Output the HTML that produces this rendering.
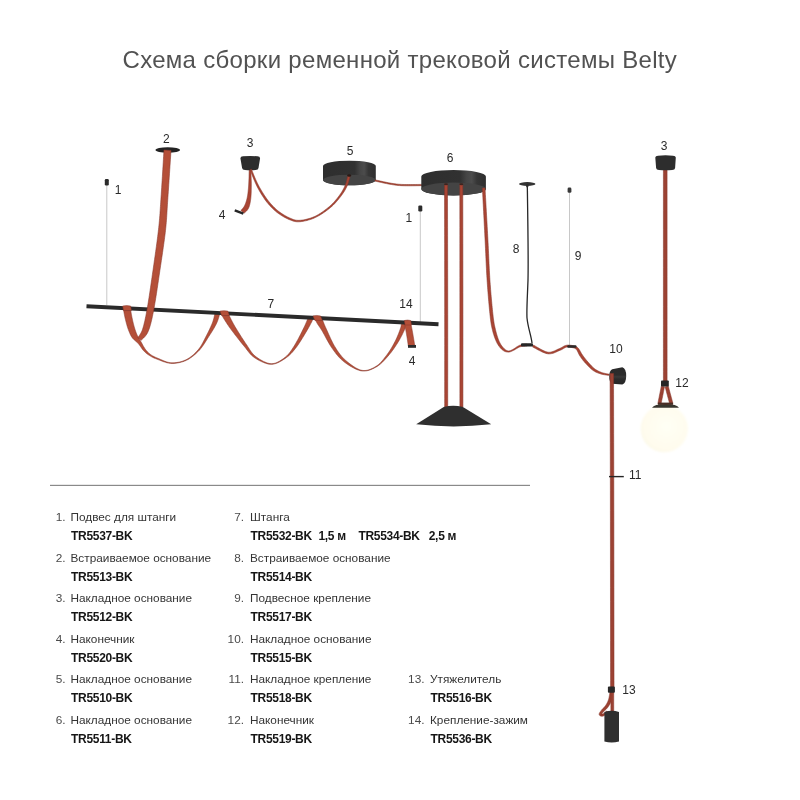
<!DOCTYPE html>
<html><head><meta charset="utf-8"><style>
html,body{margin:0;padding:0;background:#fff;}
body{width:800px;height:800px;overflow:hidden;position:relative;}
svg{position:absolute;left:0;top:0;will-change:transform;}
text{font-family:"Liberation Sans",sans-serif;}
.title{font-size:24px;fill:#525252;letter-spacing:0.3px;}
.lb{font-size:12px;fill:#2a2a2a;}
.num{font-size:11.8px;fill:#4a4a4a;}
.desc{font-size:11.8px;fill:#343434;}
.code{font-size:12px;font-weight:bold;fill:#161616;letter-spacing:-0.3px;}
</style></head><body>
<svg width="800" height="800" viewBox="0 0 800 800">
<line x1="106.8" y1="185" x2="106.8" y2="305" stroke="#c8c8c8" stroke-width="1"/>
<rect x="104.8" y="179" width="4" height="6.5" rx="1.2" fill="#2b2b2b"/>
<line x1="420.3" y1="211" x2="420.3" y2="322" stroke="#c8c8c8" stroke-width="1"/>
<rect x="418.3" y="205.6" width="4" height="5.8" rx="1.2" fill="#2b2b2b"/>
<line x1="569.5" y1="192" x2="569.5" y2="345" stroke="#c8c8c8" stroke-width="1"/>
<rect x="567.6" y="187.5" width="3.8" height="5.3" rx="1.4" fill="#383838"/>
<path d="M123.33,308.93 L123.39,309.26 L123.47,309.65 L123.55,310.11 L123.65,310.63 L123.75,311.20 L123.86,311.81 L123.98,312.46 L124.10,313.13 L124.23,313.83 L124.37,314.54 L124.51,315.26 L124.65,315.98 L124.80,316.69 L124.95,317.40 L125.10,318.08 L125.26,318.74 L125.41,319.37 L125.56,320.01 L125.72,320.65 L125.88,321.30 L126.05,321.95 L126.22,322.61 L126.39,323.27 L126.57,323.93 L126.75,324.59 L126.93,325.24 L127.12,325.89 L127.32,326.53 L127.51,327.16 L127.72,327.79 L127.92,328.40 L128.13,329.00 L128.34,329.57 L128.55,330.13 L128.75,330.68 L128.96,331.23 L129.17,331.77 L129.38,332.31 L129.61,332.84 L129.83,333.37 L130.07,333.89 L130.32,334.41 L130.57,334.92 L130.84,335.43 L131.12,335.93 L131.41,336.43 L131.72,336.92 L132.05,337.41 L132.41,337.90 L132.79,338.38 L133.18,338.82 L133.57,339.24 L133.98,339.64 L134.38,340.01 L134.78,340.37 L135.19,340.72 L135.59,341.06 L135.98,341.39 L136.37,341.72 L136.75,342.05 L137.12,342.38 L137.49,342.72 L137.84,343.08 L138.18,343.45 L138.51,343.84 L138.85,344.25 L139.18,344.69 L139.51,345.14 L139.85,345.60 L140.18,346.08 L140.51,346.56 L140.84,347.04 L141.18,347.53 L141.52,348.02 L141.86,348.50 L142.20,348.97 L142.55,349.43 L142.91,349.88 L143.27,350.31 L143.63,350.72 L144.00,351.10 L144.35,351.46 L144.70,351.81 L145.06,352.15 L145.41,352.48 L145.77,352.80 L146.12,353.10 L146.49,353.40 L146.85,353.69 L147.22,353.98 L147.60,354.26 L147.98,354.53 L148.37,354.80 L148.77,355.07 L149.18,355.34 L149.59,355.60 L150.01,355.86 L150.43,356.11 L150.83,356.35 L151.24,356.59 L151.66,356.82 L152.08,357.05 L152.50,357.27 L152.95,357.49 L153.40,357.71 L153.88,357.92 L154.37,358.14 L154.90,358.36 L155.45,358.59 L156.03,358.81 L156.64,359.05 L157.29,359.29 L157.98,359.54 L158.70,359.82 L159.47,360.12 L160.27,360.44 L161.10,360.77 L161.96,361.11 L162.85,361.44 L163.75,361.77 L164.67,362.08 L165.60,362.37 L166.54,362.64 L167.49,362.88 L168.43,363.09 L169.37,363.25 L170.31,363.36 L171.23,363.42 L172.15,363.44 L173.09,363.43 L174.04,363.38 L175.00,363.31 L175.96,363.21 L176.94,363.08 L177.91,362.92 L178.89,362.73 L179.86,362.52 L180.83,362.28 L181.79,362.01 L182.74,361.72 L183.68,361.40 L184.60,361.06 L185.51,360.69 L186.39,360.29 L187.26,359.87 L188.13,359.40 L188.99,358.90 L189.84,358.37 L190.68,357.81 L191.51,357.23 L192.34,356.62 L193.15,355.98 L193.95,355.33 L194.74,354.66 L195.52,353.97 L196.28,353.27 L197.03,352.56 L197.76,351.84 L198.48,351.11 L199.18,350.38 L199.87,349.63 L200.54,348.85 L201.19,348.04 L201.82,347.22 L202.44,346.37 L203.04,345.52 L203.63,344.65 L204.21,343.77 L204.78,342.89 L205.34,342.01 L205.89,341.13 L206.43,340.25 L206.97,339.38 L207.50,338.53 L208.03,337.69 L208.56,336.86 L209.09,336.04 L209.63,335.21 L210.17,334.37 L210.71,333.53 L211.24,332.68 L211.77,331.84 L212.29,331.00 L212.81,330.17 L213.31,329.33 L213.80,328.51 L214.27,327.70 L214.73,326.89 L215.17,326.10 L215.59,325.32 L215.99,324.55 L216.36,323.79 L216.72,323.03 L217.05,322.25 L217.37,321.48 L217.66,320.70 L217.93,319.94 L218.18,319.19 L218.42,318.46 L218.64,317.76 L218.84,317.08 L219.02,316.44 L219.19,315.84 L219.35,315.28 L219.49,314.78 L219.62,314.34 L219.73,313.98 L219.83,313.66 L215.17,312.34 L215.08,312.71 L214.97,313.15 L214.87,313.64 L214.76,314.16 L214.64,314.72 L214.52,315.31 L214.38,315.94 L214.24,316.59 L214.08,317.26 L213.92,317.95 L213.74,318.66 L213.54,319.37 L213.34,320.09 L213.12,320.80 L212.89,321.50 L212.64,322.21 L212.36,322.93 L212.07,323.68 L211.75,324.45 L211.41,325.25 L211.06,326.07 L210.69,326.91 L210.31,327.76 L209.91,328.62 L209.51,329.49 L209.09,330.36 L208.66,331.24 L208.23,332.13 L207.79,333.01 L207.34,333.89 L206.89,334.76 L206.44,335.64 L205.98,336.52 L205.53,337.41 L205.07,338.32 L204.61,339.23 L204.15,340.15 L203.68,341.06 L203.21,341.98 L202.73,342.89 L202.23,343.79 L201.72,344.68 L201.20,345.55 L200.66,346.41 L200.11,347.25 L199.53,348.07 L198.94,348.86 L198.32,349.62 L197.67,350.37 L197.01,351.12 L196.32,351.85 L195.61,352.58 L194.89,353.30 L194.15,354.00 L193.40,354.68 L192.63,355.35 L191.85,355.99 L191.06,356.61 L190.25,357.21 L189.44,357.77 L188.62,358.31 L187.79,358.81 L186.95,359.28 L186.11,359.71 L185.25,360.11 L184.37,360.48 L183.47,360.83 L182.55,361.15 L181.62,361.44 L180.68,361.71 L179.73,361.95 L178.77,362.16 L177.81,362.34 L176.85,362.49 L175.89,362.62 L174.94,362.71 L174.00,362.77 L173.07,362.80 L172.16,362.81 L171.27,362.78 L170.38,362.70 L169.48,362.57 L168.58,362.39 L167.67,362.16 L166.76,361.90 L165.85,361.60 L164.95,361.28 L164.06,360.94 L163.18,360.59 L162.32,360.22 L161.48,359.86 L160.67,359.50 L159.88,359.15 L159.12,358.81 L158.39,358.50 L157.71,358.21 L157.07,357.96 L156.47,357.71 L155.91,357.47 L155.38,357.24 L154.88,357.01 L154.41,356.79 L153.95,356.56 L153.52,356.34 L153.11,356.12 L152.71,355.90 L152.32,355.67 L151.93,355.43 L151.55,355.19 L151.17,354.94 L150.79,354.67 L150.41,354.40 L150.03,354.12 L149.66,353.83 L149.31,353.55 L148.97,353.26 L148.64,352.97 L148.32,352.67 L148.01,352.37 L147.70,352.07 L147.40,351.75 L147.11,351.43 L146.82,351.10 L146.53,350.76 L146.24,350.41 L145.95,350.04 L145.66,349.67 L145.37,349.28 L145.08,348.89 L144.80,348.47 L144.51,348.04 L144.23,347.59 L143.94,347.12 L143.66,346.64 L143.38,346.15 L143.09,345.64 L142.81,345.13 L142.53,344.62 L142.25,344.11 L141.96,343.59 L141.68,343.07 L141.40,342.56 L141.11,342.06 L140.82,341.55 L140.53,341.06 L140.24,340.58 L139.95,340.10 L139.67,339.63 L139.39,339.17 L139.12,338.72 L138.86,338.28 L138.60,337.84 L138.36,337.42 L138.12,337.00 L137.90,336.58 L137.69,336.17 L137.49,335.77 L137.30,335.38 L137.12,334.99 L136.95,334.59 L136.77,334.17 L136.59,333.74 L136.41,333.31 L136.24,332.88 L136.07,332.43 L135.90,331.99 L135.73,331.53 L135.57,331.07 L135.40,330.60 L135.24,330.12 L135.08,329.63 L134.91,329.13 L134.75,328.61 L134.59,328.09 L134.43,327.55 L134.27,327.00 L134.11,326.46 L133.96,325.90 L133.80,325.32 L133.65,324.74 L133.50,324.14 L133.35,323.53 L133.20,322.91 L133.05,322.28 L132.90,321.65 L132.76,321.02 L132.61,320.39 L132.47,319.75 L132.34,319.12 L132.20,318.49 L132.07,317.87 L131.94,317.26 L131.82,316.65 L131.70,316.02 L131.57,315.35 L131.45,314.67 L131.33,313.98 L131.20,313.29 L131.09,312.60 L130.97,311.92 L130.86,311.25 L130.76,310.62 L130.66,310.01 L130.56,309.44 L130.48,308.91 L130.40,308.44 L130.33,308.02 L130.27,307.67Z" fill="#b44f38" stroke="#86352a" stroke-width="0.55" stroke-linejoin="round" />
<path d="M221.64,314.80 L221.72,314.93 L221.81,315.08 L221.90,315.26 L222.01,315.45 L222.13,315.67 L222.26,315.92 L222.40,316.18 L222.56,316.47 L222.73,316.78 L222.92,317.11 L223.12,317.46 L223.34,317.82 L223.57,318.22 L223.82,318.63 L224.09,319.06 L224.38,319.51 L224.66,319.95 L224.96,320.41 L225.26,320.89 L225.58,321.39 L225.91,321.92 L226.26,322.46 L226.62,323.03 L227.01,323.63 L227.41,324.24 L227.84,324.89 L228.30,325.56 L228.78,326.26 L229.28,326.99 L229.82,327.74 L230.38,328.53 L230.98,329.34 L231.62,330.20 L232.31,331.12 L233.04,332.10 L233.82,333.12 L234.62,334.17 L235.45,335.26 L236.31,336.36 L237.18,337.48 L238.05,338.60 L238.93,339.72 L239.80,340.83 L240.66,341.91 L241.50,342.96 L242.32,343.98 L243.11,344.95 L243.86,345.85 L244.56,346.71 L245.22,347.55 L245.86,348.37 L246.48,349.18 L247.08,349.98 L247.68,350.76 L248.28,351.53 L248.88,352.28 L249.48,353.02 L250.11,353.74 L250.76,354.45 L251.43,355.13 L252.14,355.80 L252.89,356.44 L253.68,357.07 L254.51,357.66 L255.39,358.25 L256.31,358.83 L257.27,359.41 L258.28,359.99 L259.31,360.55 L260.36,361.09 L261.44,361.61 L262.53,362.10 L263.62,362.56 L264.71,362.98 L265.81,363.35 L266.89,363.67 L267.95,363.93 L268.99,364.13 L270.01,364.26 L270.99,364.32 L271.95,364.31 L272.91,364.21 L273.87,364.05 L274.81,363.82 L275.75,363.54 L276.68,363.21 L277.61,362.83 L278.52,362.41 L279.42,361.96 L280.30,361.49 L281.18,360.99 L282.03,360.48 L282.87,359.95 L283.69,359.43 L284.49,358.90 L285.28,358.39 L286.04,357.87 L286.78,357.33 L287.49,356.78 L288.19,356.22 L288.87,355.64 L289.53,355.04 L290.18,354.42 L290.83,353.78 L291.46,353.12 L292.10,352.43 L292.73,351.72 L293.37,350.98 L294.01,350.21 L294.66,349.40 L295.33,348.57 L296.00,347.70 L296.71,346.77 L297.44,345.76 L298.18,344.69 L298.93,343.57 L299.69,342.42 L300.45,341.23 L301.21,340.03 L301.97,338.81 L302.72,337.60 L303.45,336.39 L304.16,335.21 L304.85,334.06 L305.51,332.95 L306.14,331.89 L306.73,330.89 L307.28,329.96 L307.81,329.07 L308.32,328.18 L308.80,327.31 L309.27,326.47 L309.72,325.65 L310.14,324.85 L310.54,324.08 L310.92,323.35 L311.27,322.65 L311.60,322.00 L311.91,321.38 L312.20,320.81 L312.46,320.30 L312.69,319.83 L312.90,319.43 L313.08,319.08 L308.52,316.92 L308.35,317.31 L308.16,317.77 L307.96,318.27 L307.74,318.81 L307.51,319.40 L307.25,320.03 L306.98,320.69 L306.70,321.40 L306.39,322.14 L306.06,322.91 L305.72,323.71 L305.36,324.53 L304.98,325.38 L304.58,326.25 L304.16,327.13 L303.72,328.04 L303.24,329.00 L302.73,330.04 L302.18,331.14 L301.61,332.29 L301.01,333.48 L300.40,334.70 L299.76,335.94 L299.12,337.19 L298.46,338.44 L297.81,339.68 L297.15,340.90 L296.49,342.08 L295.85,343.23 L295.21,344.32 L294.60,345.34 L294.00,346.30 L293.41,347.21 L292.84,348.08 L292.29,348.93 L291.75,349.74 L291.21,350.53 L290.68,351.28 L290.15,352.01 L289.61,352.72 L289.07,353.40 L288.51,354.05 L287.94,354.69 L287.35,355.31 L286.74,355.91 L286.10,356.49 L285.43,357.06 L284.72,357.61 L283.98,358.17 L283.22,358.73 L282.43,359.29 L281.62,359.84 L280.80,360.37 L279.96,360.89 L279.10,361.38 L278.23,361.84 L277.35,362.26 L276.46,362.64 L275.56,362.96 L274.66,363.24 L273.75,363.45 L272.83,363.60 L271.92,363.68 L271.01,363.68 L270.08,363.59 L269.12,363.43 L268.13,363.20 L267.11,362.90 L266.09,362.53 L265.05,362.12 L264.01,361.65 L262.97,361.15 L261.95,360.60 L260.93,360.03 L259.94,359.44 L258.97,358.83 L258.04,358.20 L257.14,357.58 L256.29,356.95 L255.49,356.34 L254.75,355.73 L254.07,355.10 L253.43,354.46 L252.82,353.81 L252.24,353.13 L251.69,352.43 L251.15,351.71 L250.62,350.97 L250.10,350.20 L249.58,349.41 L249.06,348.60 L248.52,347.76 L247.96,346.89 L247.39,346.00 L246.78,345.08 L246.14,344.15 L245.48,343.18 L244.79,342.16 L244.07,341.08 L243.34,339.97 L242.59,338.82 L241.84,337.65 L241.08,336.46 L240.32,335.27 L239.58,334.08 L238.84,332.91 L238.13,331.75 L237.43,330.63 L236.77,329.55 L236.14,328.53 L235.56,327.56 L235.02,326.66 L234.52,325.82 L234.06,325.02 L233.63,324.25 L233.22,323.51 L232.83,322.80 L232.47,322.12 L232.13,321.47 L231.81,320.84 L231.50,320.23 L231.20,319.65 L230.92,319.08 L230.65,318.53 L230.39,318.00 L230.13,317.48 L229.87,316.98 L229.62,316.49 L229.39,316.04 L229.18,315.63 L228.98,315.23 L228.80,314.86 L228.63,314.51 L228.47,314.18 L228.32,313.87 L228.19,313.58 L228.06,313.31 L227.94,313.05 L227.83,312.81 L227.73,312.59 L227.63,312.37 L227.53,312.17 L227.44,311.98 L227.36,311.80Z" fill="#b44f38" stroke="#86352a" stroke-width="0.55" stroke-linejoin="round" />
<path d="M315.12,319.56 L315.21,319.72 L315.32,319.92 L315.44,320.14 L315.57,320.38 L315.71,320.65 L315.86,320.94 L316.03,321.25 L316.20,321.57 L316.39,321.91 L316.58,322.26 L316.77,322.61 L316.97,322.97 L317.18,323.33 L317.39,323.69 L317.61,324.05 L317.82,324.41 L318.03,324.74 L318.24,325.05 L318.43,325.34 L318.63,325.62 L318.82,325.89 L319.02,326.16 L319.22,326.44 L319.43,326.73 L319.66,327.05 L319.91,327.40 L320.17,327.79 L320.47,328.22 L320.78,328.71 L321.14,329.27 L321.52,329.89 L321.94,330.58 L322.40,331.36 L322.89,332.23 L323.43,333.20 L324.00,334.24 L324.59,335.35 L325.22,336.51 L325.87,337.70 L326.53,338.93 L327.22,340.17 L327.91,341.42 L328.62,342.66 L329.33,343.89 L330.05,345.08 L330.76,346.23 L331.48,347.33 L332.18,348.36 L332.87,349.33 L333.54,350.27 L334.21,351.20 L334.88,352.11 L335.56,353.01 L336.24,353.89 L336.93,354.75 L337.63,355.60 L338.35,356.44 L339.09,357.26 L339.85,358.06 L340.63,358.85 L341.44,359.62 L342.29,360.37 L343.16,361.11 L344.06,361.83 L345.01,362.54 L346.00,363.26 L347.03,363.99 L348.10,364.71 L349.20,365.43 L350.32,366.13 L351.46,366.81 L352.62,367.47 L353.77,368.09 L354.93,368.66 L356.08,369.20 L357.22,369.67 L358.34,370.09 L359.44,370.44 L360.51,370.72 L361.54,370.92 L362.55,371.04 L363.55,371.09 L364.54,371.07 L365.52,370.98 L366.50,370.85 L367.46,370.65 L368.41,370.42 L369.35,370.13 L370.28,369.81 L371.20,369.46 L372.10,369.08 L373.00,368.67 L373.87,368.24 L374.74,367.80 L375.58,367.34 L376.42,366.88 L377.24,366.39 L378.05,365.85 L378.84,365.28 L379.62,364.67 L380.39,364.03 L381.14,363.37 L381.89,362.67 L382.62,361.96 L383.34,361.23 L384.05,360.48 L384.75,359.73 L385.44,358.97 L386.13,358.20 L386.81,357.44 L387.48,356.68 L388.14,355.92 L388.81,355.15 L389.47,354.37 L390.12,353.56 L390.77,352.75 L391.41,351.92 L392.04,351.08 L392.67,350.23 L393.28,349.38 L393.89,348.53 L394.48,347.67 L395.06,346.82 L395.63,345.97 L396.19,345.12 L396.74,344.28 L397.27,343.45 L397.78,342.63 L398.29,341.79 L398.80,340.95 L399.30,340.09 L399.79,339.22 L400.26,338.35 L400.73,337.48 L401.18,336.62 L401.62,335.76 L402.05,334.92 L402.45,334.10 L402.84,333.30 L403.21,332.53 L403.56,331.78 L403.89,331.07 L404.20,330.40 L404.49,329.76 L404.75,329.13 L405.00,328.51 L405.21,327.92 L405.40,327.35 L405.57,326.81 L405.72,326.29 L405.84,325.81 L405.96,325.35 L406.05,324.92 L406.14,324.53 L406.21,324.17 L406.27,323.85 L406.33,323.57 L406.38,323.34 L406.42,323.17 L406.47,323.01 L401.53,321.99 L401.49,322.26 L401.45,322.57 L401.42,322.88 L401.40,323.19 L401.38,323.51 L401.35,323.83 L401.33,324.18 L401.29,324.54 L401.25,324.92 L401.20,325.32 L401.13,325.75 L401.05,326.19 L400.95,326.66 L400.83,327.16 L400.69,327.68 L400.51,328.24 L400.31,328.86 L400.08,329.53 L399.83,330.25 L399.56,331.00 L399.27,331.78 L398.97,332.58 L398.65,333.41 L398.32,334.26 L397.97,335.12 L397.61,335.99 L397.23,336.87 L396.85,337.75 L396.45,338.62 L396.05,339.48 L395.64,340.34 L395.22,341.17 L394.78,342.01 L394.33,342.87 L393.87,343.74 L393.39,344.61 L392.91,345.49 L392.41,346.37 L391.90,347.25 L391.37,348.13 L390.84,349.01 L390.30,349.88 L389.75,350.75 L389.19,351.60 L388.62,352.44 L388.04,353.27 L387.45,354.08 L386.86,354.88 L386.25,355.68 L385.64,356.48 L385.03,357.29 L384.41,358.09 L383.78,358.89 L383.14,359.69 L382.50,360.46 L381.84,361.23 L381.17,361.97 L380.49,362.69 L379.80,363.38 L379.09,364.05 L378.36,364.68 L377.62,365.27 L376.86,365.82 L376.08,366.32 L375.28,366.80 L374.46,367.28 L373.61,367.74 L372.76,368.18 L371.89,368.60 L371.00,368.99 L370.11,369.35 L369.20,369.67 L368.28,369.94 L367.35,370.17 L366.41,370.35 L365.47,370.47 L364.52,370.52 L363.57,370.51 L362.61,370.43 L361.66,370.28 L360.68,370.04 L359.68,369.71 L358.65,369.30 L357.60,368.82 L356.53,368.27 L355.46,367.67 L354.38,367.02 L353.31,366.32 L352.24,365.59 L351.19,364.84 L350.15,364.06 L349.14,363.27 L348.16,362.48 L347.21,361.70 L346.30,360.92 L345.44,360.17 L344.62,359.43 L343.84,358.69 L343.09,357.93 L342.37,357.16 L341.68,356.38 L341.00,355.58 L340.34,354.77 L339.70,353.95 L339.07,353.10 L338.45,352.24 L337.84,351.36 L337.23,350.46 L336.63,349.53 L336.03,348.59 L335.42,347.62 L334.82,346.64 L334.22,345.63 L333.61,344.54 L333.00,343.40 L332.39,342.21 L331.78,340.98 L331.18,339.73 L330.58,338.46 L330.00,337.19 L329.43,335.94 L328.87,334.71 L328.34,333.51 L327.83,332.35 L327.34,331.26 L326.88,330.23 L326.45,329.28 L326.06,328.42 L325.71,327.66 L325.40,326.99 L325.13,326.38 L324.89,325.84 L324.68,325.35 L324.50,324.90 L324.34,324.50 L324.19,324.13 L324.06,323.79 L323.93,323.47 L323.82,323.17 L323.70,322.87 L323.58,322.57 L323.46,322.26 L323.33,321.94 L323.18,321.59 L323.02,321.23 L322.85,320.86 L322.69,320.49 L322.52,320.13 L322.35,319.76 L322.18,319.40 L322.02,319.05 L321.86,318.71 L321.70,318.39 L321.56,318.07 L321.42,317.78 L321.28,317.50 L321.16,317.25 L321.05,317.02 L320.96,316.81 L320.88,316.64Z" fill="#b44f38" stroke="#86352a" stroke-width="0.55" stroke-linejoin="round" />
<path d="M404.43,323.30 L404.50,323.66 L404.59,324.09 L404.69,324.58 L404.80,325.12 L404.92,325.70 L405.04,326.33 L405.18,326.99 L405.32,327.68 L405.46,328.39 L405.60,329.12 L405.75,329.86 L405.89,330.61 L406.03,331.36 L406.17,332.10 L406.30,332.83 L406.42,333.54 L406.54,334.27 L406.67,335.06 L406.81,335.90 L406.94,336.77 L407.08,337.66 L407.22,338.57 L407.35,339.48 L407.49,340.39 L407.62,341.27 L407.74,342.12 L407.86,342.93 L407.97,343.69 L408.08,344.39 L408.17,345.02 L408.25,345.56 L408.31,346.00 L414.69,345.00 L414.61,344.56 L414.52,344.02 L414.42,343.40 L414.31,342.71 L414.18,341.95 L414.05,341.14 L413.91,340.29 L413.76,339.40 L413.61,338.50 L413.46,337.58 L413.30,336.66 L413.15,335.76 L413.00,334.88 L412.85,334.03 L412.71,333.22 L412.58,332.46 L412.44,331.72 L412.30,330.97 L412.16,330.21 L412.02,329.44 L411.87,328.68 L411.72,327.93 L411.58,327.18 L411.43,326.46 L411.30,325.76 L411.16,325.10 L411.04,324.47 L410.92,323.88 L410.81,323.35 L410.72,322.87 L410.64,322.45 L410.57,322.10Z" fill="#b44f38" stroke="#86352a" stroke-width="0.55" stroke-linejoin="round" />
<line x1="86.5" y1="306.2" x2="438.5" y2="324.3" stroke="#2a2a2a" stroke-width="3.9" stroke-linecap="butt"/>
<path d="M122.7,306.0 Q126.65,305.1 130.6,306.0 L131.4,310.6 L123.5,310.6 Z" fill="#b44f38" stroke="#86352a" stroke-width="0.5"/>
<path d="M220.0,311.09999999999997 Q223.9,310.2 227.8,311.09999999999997 L229.4,315.6 L221.6,315.6 Z" fill="#b44f38" stroke="#86352a" stroke-width="0.5"/>
<path d="M313.0,315.9 Q316.75,315.0 320.5,315.9 L322.4,320.4 L314.9,320.4 Z" fill="#b44f38" stroke="#86352a" stroke-width="0.5"/>
<path d="M404.3,320.5 Q407.5,319.6 410.7,320.5 L411.5,325.0 L405.1,325.0 Z" fill="#b44f38" stroke="#86352a" stroke-width="0.5"/>
<rect x="408" y="345" width="8" height="2.8" fill="#2b2b2b"/>
<ellipse cx="167.75" cy="150" rx="12.3" ry="2.8" fill="#232323"/>
<path d="M163.98,149.98 L163.87,151.76 L163.74,153.96 L163.58,156.52 L163.41,159.39 L163.22,162.53 L163.02,165.88 L162.80,169.39 L162.58,173.01 L162.36,176.68 L162.13,180.37 L161.90,184.01 L161.68,187.55 L161.46,190.95 L161.26,194.16 L161.06,197.11 L160.88,199.77 L160.72,202.17 L160.57,204.41 L160.43,206.49 L160.30,208.44 L160.18,210.29 L160.06,212.04 L159.95,213.73 L159.83,215.38 L159.70,217.00 L159.57,218.62 L159.43,220.26 L159.28,221.95 L159.12,223.71 L158.93,225.55 L158.73,227.51 L158.50,229.61 L158.24,231.82 L157.97,234.10 L157.68,236.45 L157.38,238.87 L157.06,241.33 L156.72,243.84 L156.38,246.38 L156.03,248.95 L155.67,251.54 L155.30,254.14 L154.94,256.74 L154.57,259.34 L154.20,261.92 L153.83,264.48 L153.47,267.01 L153.11,269.51 L152.75,272.01 L152.39,274.56 L152.02,277.14 L151.64,279.75 L151.26,282.37 L150.88,284.99 L150.50,287.60 L150.12,290.18 L149.74,292.73 L149.36,295.22 L148.99,297.65 L148.62,300.00 L148.26,302.27 L147.91,304.43 L147.56,306.48 L147.23,308.40 L146.91,310.22 L146.59,311.95 L146.29,313.59 L145.99,315.15 L145.70,316.63 L145.41,318.03 L145.13,319.37 L144.86,320.64 L144.58,321.84 L144.31,322.99 L144.04,324.09 L143.77,325.14 L143.50,326.15 L143.22,327.11 L142.94,328.05 L142.67,328.94 L142.39,329.75 L142.11,330.49 L141.82,331.20 L141.51,331.87 L141.19,332.51 L140.87,333.12 L140.54,333.69 L140.21,334.24 L139.87,334.76 L139.55,335.25 L139.22,335.72 L138.91,336.16 L138.61,336.59 L138.32,337.01 L138.04,337.42 L137.82,337.78 L141.18,340.22 L141.39,339.99 L141.62,339.77 L141.93,339.49 L142.29,339.16 L142.71,338.79 L143.16,338.37 L143.65,337.91 L144.17,337.39 L144.70,336.81 L145.25,336.18 L145.80,335.49 L146.35,334.74 L146.88,333.92 L147.40,333.03 L147.89,332.07 L148.33,331.06 L148.73,330.05 L149.11,329.03 L149.47,327.98 L149.82,326.89 L150.16,325.77 L150.50,324.60 L150.82,323.38 L151.14,322.11 L151.46,320.79 L151.78,319.41 L152.10,317.96 L152.42,316.44 L152.74,314.85 L153.08,313.19 L153.42,311.44 L153.77,309.60 L154.13,307.64 L154.51,305.55 L154.88,303.36 L155.26,301.07 L155.65,298.70 L156.04,296.25 L156.43,293.75 L156.82,291.19 L157.21,288.60 L157.60,285.99 L157.99,283.36 L158.38,280.73 L158.77,278.12 L159.15,275.54 L159.52,272.99 L159.89,270.49 L160.26,268.01 L160.64,265.48 L161.02,262.92 L161.40,260.33 L161.79,257.74 L162.18,255.13 L162.56,252.52 L162.93,249.92 L163.30,247.34 L163.66,244.79 L164.01,242.26 L164.35,239.78 L164.66,237.34 L164.97,234.96 L165.25,232.64 L165.50,230.39 L165.73,228.26 L165.94,226.26 L166.12,224.37 L166.27,222.57 L166.41,220.84 L166.54,219.16 L166.65,217.50 L166.76,215.85 L166.86,214.18 L166.96,212.48 L167.06,210.72 L167.17,208.87 L167.29,206.92 L167.41,204.85 L167.56,202.63 L167.72,200.23 L167.90,197.57 L168.10,194.61 L168.32,191.40 L168.54,188.00 L168.78,184.45 L169.02,180.81 L169.26,177.12 L169.51,173.44 L169.74,169.83 L169.97,166.32 L170.19,162.97 L170.40,159.83 L170.59,156.96 L170.76,154.40 L170.90,152.20 L171.02,150.42Z" fill="#b44f38" stroke="#86352a" stroke-width="0.55" stroke-linejoin="round" />
<defs><linearGradient id="pk" x1="0" y1="0" x2="1" y2="0"><stop offset="0" stop-color="#2e2e2e"/><stop offset="0.6" stop-color="#313131"/><stop offset="0.7" stop-color="#454545"/><stop offset="0.78" stop-color="#4c4c4c"/><stop offset="0.86" stop-color="#363636"/><stop offset="1" stop-color="#2e2e2e"/></linearGradient></defs>
<path d="M249.18,169.50 L249.16,170.05 L249.14,170.72 L249.13,171.49 L249.11,172.35 L249.09,173.29 L249.07,174.30 L249.04,175.35 L249.02,176.44 L248.99,177.56 L248.96,178.69 L248.92,179.82 L248.88,180.93 L248.84,182.01 L248.79,183.05 L248.74,184.04 L248.68,184.96 L248.61,185.84 L248.55,186.72 L248.48,187.59 L248.41,188.45 L248.33,189.30 L248.25,190.15 L248.17,190.98 L248.09,191.79 L247.99,192.60 L247.90,193.39 L247.80,194.16 L247.69,194.91 L247.58,195.64 L247.46,196.36 L247.33,197.05 L247.20,197.72 L247.06,198.37 L246.91,199.00 L246.75,199.62 L246.59,200.22 L246.42,200.81 L246.25,201.37 L246.08,201.92 L245.90,202.45 L245.71,202.96 L245.53,203.45 L245.34,203.92 L245.15,204.38 L244.96,204.81 L244.77,205.23 L244.58,205.63 L244.41,205.99 L244.24,206.31 L244.06,206.61 L243.87,206.91 L243.66,207.21 L243.44,207.52 L243.20,207.82 L242.96,208.11 L242.72,208.40 L242.47,208.68 L242.22,208.95 L241.98,209.21 L241.75,209.46 L241.52,209.71 L241.30,209.94 L241.08,210.18 L240.91,210.39 L244.09,213.21 L244.20,213.10 L244.34,212.97 L244.53,212.81 L244.76,212.61 L245.03,212.38 L245.32,212.12 L245.64,211.84 L245.97,211.52 L246.32,211.19 L246.67,210.82 L247.02,210.43 L247.36,210.00 L247.70,209.55 L248.03,209.06 L248.33,208.54 L248.59,208.01 L248.82,207.49 L249.02,206.98 L249.21,206.45 L249.38,205.90 L249.55,205.34 L249.70,204.77 L249.84,204.18 L249.98,203.58 L250.11,202.96 L250.22,202.33 L250.33,201.69 L250.44,201.04 L250.54,200.37 L250.63,199.69 L250.72,198.99 L250.80,198.28 L250.88,197.56 L250.95,196.81 L251.01,196.05 L251.07,195.27 L251.12,194.48 L251.16,193.67 L251.20,192.85 L251.23,192.02 L251.25,191.18 L251.27,190.32 L251.29,189.46 L251.30,188.59 L251.31,187.71 L251.32,186.83 L251.32,185.94 L251.32,185.04 L251.32,184.10 L251.31,183.10 L251.29,182.04 L251.26,180.94 L251.23,179.82 L251.19,178.69 L251.15,177.55 L251.11,176.43 L251.06,175.33 L251.02,174.28 L250.98,173.27 L250.94,172.33 L250.90,171.47 L250.87,170.71 L250.84,170.04 L250.82,169.50Z" fill="#a94534" stroke="#86352a" stroke-width="0.55" stroke-linejoin="round" />
<path d="M235.2,209.2 L243.8,212.6 L242.9,214.8 L234.3,211.4Z" fill="#262626"/>
<path d="M240.4,158.2 Q240.5,156.5 243,156.3 Q250.2,155.5 257.5,156.3 Q260,156.5 260.1,158.2 L258.5,168 Q258.3,169.9 255.6,170 Q250.2,170.4 245,170 Q242.3,169.9 242.1,168 Z" fill="#2d2d2d"/>
<path d="M323.0,166 A26.4,5.3 0 0 1 375.79999999999995,166 L375.79999999999995,180 A26.4,5.3 0 0 1 323.0,180 Z" fill="url(#pk)"/>
<ellipse cx="349.4" cy="180" rx="26.4" ry="5.3" fill="#444444"/>
<path d="M250.13,169.77 L250.27,170.13 L250.44,170.58 L250.63,171.09 L250.84,171.66 L251.08,172.29 L251.33,172.96 L251.59,173.67 L251.87,174.40 L252.16,175.16 L252.45,175.93 L252.75,176.70 L253.06,177.47 L253.36,178.22 L253.66,178.96 L253.96,179.66 L254.25,180.34 L254.53,180.98 L254.80,181.60 L255.08,182.23 L255.35,182.84 L255.62,183.46 L255.90,184.07 L256.18,184.68 L256.47,185.29 L256.77,185.91 L257.08,186.53 L257.39,187.16 L257.72,187.80 L258.07,188.45 L258.43,189.11 L258.81,189.78 L259.20,190.47 L259.61,191.17 L260.04,191.90 L260.48,192.64 L260.94,193.40 L261.41,194.17 L261.89,194.95 L262.38,195.73 L262.88,196.52 L263.40,197.31 L263.92,198.10 L264.46,198.88 L265.00,199.66 L265.55,200.42 L266.11,201.17 L266.67,201.90 L267.24,202.62 L267.82,203.31 L268.40,204.00 L268.99,204.68 L269.59,205.36 L270.20,206.03 L270.81,206.69 L271.43,207.34 L272.07,207.99 L272.71,208.62 L273.36,209.25 L274.02,209.86 L274.68,210.46 L275.36,211.05 L276.04,211.62 L276.73,212.19 L277.43,212.73 L278.15,213.27 L278.89,213.80 L279.64,214.32 L280.41,214.83 L281.18,215.33 L281.97,215.82 L282.76,216.30 L283.56,216.76 L284.35,217.21 L285.15,217.63 L285.93,218.04 L286.71,218.43 L287.48,218.80 L288.23,219.15 L288.97,219.47 L289.68,219.76 L290.36,220.03 L291.01,220.29 L291.64,220.52 L292.25,220.74 L292.85,220.95 L293.45,221.13 L294.04,221.30 L294.64,221.44 L295.24,221.56 L295.86,221.66 L296.49,221.74 L297.15,221.79 L297.83,221.81 L298.53,221.81 L299.28,221.78 L300.06,221.72 L300.88,221.64 L301.73,221.53 L302.61,221.40 L303.52,221.25 L304.45,221.07 L305.40,220.87 L306.37,220.64 L307.35,220.39 L308.34,220.12 L309.34,219.82 L310.34,219.50 L311.34,219.16 L312.34,218.80 L313.33,218.41 L314.30,218.00 L315.26,217.57 L316.23,217.10 L317.20,216.60 L318.19,216.06 L319.19,215.49 L320.19,214.90 L321.19,214.28 L322.19,213.64 L323.18,212.99 L324.17,212.32 L325.14,211.64 L326.09,210.95 L327.02,210.26 L327.93,209.58 L328.81,208.89 L329.65,208.22 L330.47,207.55 L331.25,206.89 L332.02,206.21 L332.76,205.52 L333.47,204.83 L334.17,204.13 L334.85,203.42 L335.50,202.72 L336.14,202.01 L336.76,201.30 L337.36,200.60 L337.95,199.89 L338.52,199.20 L339.07,198.51 L339.61,197.83 L340.14,197.16 L340.66,196.50 L341.16,195.84 L341.65,195.20 L342.12,194.55 L342.57,193.92 L343.01,193.29 L343.43,192.66 L343.84,192.03 L344.23,191.41 L344.61,190.79 L344.98,190.17 L345.33,189.55 L345.67,188.93 L346.01,188.30 L346.33,187.68 L346.63,187.05 L346.94,186.41 L347.23,185.75 L347.52,185.05 L347.78,184.33 L348.04,183.59 L348.28,182.85 L348.51,182.11 L348.72,181.38 L348.93,180.66 L349.12,179.96 L349.29,179.29 L349.46,178.65 L349.61,178.06 L349.75,177.53 L349.87,177.05 L349.98,176.65 L350.08,176.31 L347.92,175.69 L347.82,176.05 L347.71,176.49 L347.59,176.98 L347.45,177.53 L347.31,178.12 L347.16,178.75 L347.00,179.41 L346.82,180.09 L346.64,180.80 L346.44,181.51 L346.24,182.23 L346.02,182.94 L345.80,183.64 L345.56,184.32 L345.32,184.97 L345.06,185.59 L344.79,186.19 L344.52,186.81 L344.23,187.42 L343.93,188.03 L343.63,188.63 L343.31,189.24 L342.98,189.85 L342.64,190.46 L342.29,191.08 L341.92,191.70 L341.53,192.32 L341.13,192.94 L340.71,193.57 L340.28,194.21 L339.82,194.85 L339.34,195.50 L338.85,196.16 L338.34,196.84 L337.82,197.52 L337.28,198.21 L336.73,198.90 L336.16,199.60 L335.58,200.29 L334.98,200.99 L334.37,201.69 L333.74,202.39 L333.09,203.08 L332.42,203.77 L331.73,204.45 L331.02,205.12 L330.29,205.79 L329.53,206.45 L328.74,207.11 L327.92,207.78 L327.06,208.47 L326.18,209.16 L325.27,209.85 L324.34,210.54 L323.40,211.22 L322.44,211.89 L321.47,212.55 L320.50,213.19 L319.52,213.80 L318.54,214.40 L317.57,214.96 L316.61,215.49 L315.67,215.98 L314.74,216.43 L313.80,216.85 L312.86,217.25 L311.89,217.62 L310.92,217.96 L309.95,218.28 L308.97,218.58 L307.99,218.86 L307.02,219.11 L306.06,219.34 L305.12,219.54 L304.19,219.72 L303.28,219.88 L302.40,220.01 L301.55,220.12 L300.73,220.21 L299.94,220.28 L299.21,220.32 L298.51,220.33 L297.86,220.32 L297.24,220.29 L296.65,220.23 L296.08,220.15 L295.53,220.05 L294.99,219.93 L294.45,219.79 L293.91,219.63 L293.36,219.44 L292.80,219.24 L292.21,219.02 L291.61,218.77 L290.98,218.51 L290.32,218.24 L289.63,217.94 L288.93,217.62 L288.21,217.28 L287.47,216.91 L286.73,216.52 L285.97,216.11 L285.21,215.68 L284.44,215.24 L283.67,214.78 L282.91,214.31 L282.15,213.82 L281.41,213.33 L280.67,212.82 L279.95,212.31 L279.25,211.79 L278.57,211.27 L277.90,210.74 L277.24,210.19 L276.59,209.63 L275.94,209.06 L275.30,208.47 L274.67,207.87 L274.05,207.26 L273.43,206.64 L272.82,206.01 L272.22,205.37 L271.63,204.72 L271.04,204.06 L270.46,203.40 L269.88,202.73 L269.31,202.06 L268.76,201.38 L268.21,200.70 L267.66,199.99 L267.12,199.27 L266.58,198.53 L266.05,197.78 L265.52,197.02 L265.00,196.25 L264.49,195.48 L263.99,194.70 L263.50,193.94 L263.02,193.17 L262.55,192.41 L262.09,191.67 L261.64,190.94 L261.21,190.22 L260.80,189.53 L260.40,188.86 L260.02,188.21 L259.66,187.57 L259.32,186.94 L258.98,186.33 L258.66,185.72 L258.35,185.12 L258.05,184.52 L257.76,183.93 L257.47,183.33 L257.18,182.73 L256.90,182.13 L256.61,181.53 L256.33,180.92 L256.04,180.29 L255.75,179.66 L255.46,179.01 L255.16,178.32 L254.85,177.60 L254.53,176.86 L254.22,176.11 L253.91,175.35 L253.60,174.59 L253.30,173.85 L253.01,173.12 L252.74,172.42 L252.47,171.75 L252.23,171.13 L252.00,170.56 L251.80,170.05 L251.62,169.60 L251.47,169.23Z" fill="#a94534" stroke="#86352a" stroke-width="0.55" stroke-linejoin="round" />
<ellipse cx="349.2" cy="175.5" rx="2" ry="1.2" fill="#2a1a16"/>
<path d="M374.88,181.11 L375.68,181.27 L376.63,181.47 L377.72,181.71 L378.94,181.98 L380.27,182.27 L381.70,182.59 L383.20,182.92 L384.78,183.25 L386.40,183.58 L388.06,183.91 L389.74,184.23 L391.43,184.53 L393.11,184.80 L394.76,185.05 L396.38,185.26 L397.94,185.42 L399.53,185.55 L401.21,185.65 L402.97,185.72 L404.78,185.77 L406.63,185.80 L408.50,185.81 L410.36,185.81 L412.19,185.79 L413.98,185.77 L415.71,185.74 L417.34,185.71 L418.87,185.69 L420.27,185.66 L421.52,185.64 L422.61,185.63 L423.50,185.62 L423.50,184.38 L422.60,184.38 L421.51,184.39 L420.25,184.41 L418.85,184.44 L417.32,184.47 L415.68,184.49 L413.97,184.52 L412.18,184.54 L410.35,184.56 L408.50,184.56 L406.65,184.55 L404.81,184.52 L403.01,184.47 L401.27,184.40 L399.61,184.30 L398.06,184.18 L396.52,184.02 L394.93,183.81 L393.30,183.57 L391.64,183.30 L389.97,183.00 L388.30,182.69 L386.65,182.36 L385.03,182.03 L383.47,181.69 L381.96,181.37 L380.54,181.05 L379.21,180.76 L377.99,180.49 L376.89,180.25 L375.93,180.05 L375.12,179.89Z" fill="#a8442f" stroke="#86352a" stroke-width="0.55" stroke-linejoin="round" />
<path d="M421.3,176.5 A32.3,6.5 0 0 1 485.90000000000003,176.5 L485.90000000000003,189 A32.3,6.5 0 0 1 421.3,189 Z" fill="url(#pk)"/>
<ellipse cx="453.6" cy="189" rx="32.3" ry="6.5" fill="#444444"/>
<path d="M444.53,184.00 L444.53,188.08 L444.54,193.01 L444.55,198.70 L444.56,205.06 L444.57,211.99 L444.58,219.40 L444.59,227.21 L444.60,235.32 L444.61,243.63 L444.62,252.06 L444.63,260.52 L444.64,268.92 L444.65,277.15 L444.66,285.14 L444.67,292.79 L444.68,300.00 L444.68,307.13 L444.68,314.54 L444.68,322.15 L444.69,329.89 L444.69,337.69 L444.69,345.49 L444.69,353.20 L444.68,360.75 L444.68,368.08 L444.68,375.11 L444.68,381.77 L444.68,387.98 L444.68,393.69 L444.68,398.81 L444.68,403.27 L444.68,407.00 L447.72,407.00 L447.73,403.27 L447.73,398.81 L447.73,393.69 L447.73,387.98 L447.73,381.77 L447.74,375.11 L447.74,368.08 L447.74,360.75 L447.74,353.20 L447.74,345.49 L447.74,337.69 L447.74,329.89 L447.74,322.15 L447.74,314.54 L447.73,307.13 L447.72,300.00 L447.72,292.78 L447.70,285.14 L447.69,277.15 L447.67,268.91 L447.66,260.52 L447.64,252.06 L447.62,243.63 L447.60,235.31 L447.58,227.20 L447.56,219.40 L447.54,211.98 L447.53,205.05 L447.51,198.70 L447.50,193.01 L447.48,188.08 L447.47,184.00Z" fill="#a94534" stroke="#86352a" stroke-width="0.55" stroke-linejoin="round" />
<path d="M459.83,184.00 L459.83,188.08 L459.83,193.01 L459.83,198.70 L459.84,205.06 L459.84,211.99 L459.84,219.40 L459.85,227.21 L459.85,235.31 L459.85,243.63 L459.86,252.06 L459.86,260.52 L459.86,268.92 L459.87,277.15 L459.87,285.14 L459.87,292.79 L459.88,300.00 L459.88,307.13 L459.88,314.54 L459.88,322.15 L459.88,329.89 L459.88,337.69 L459.88,345.49 L459.88,353.20 L459.88,360.75 L459.88,368.08 L459.88,375.11 L459.88,381.77 L459.88,387.98 L459.88,393.69 L459.88,398.81 L459.88,403.27 L459.88,407.00 L462.92,407.00 L462.93,403.27 L462.93,398.81 L462.93,393.69 L462.93,387.98 L462.93,381.77 L462.93,375.11 L462.93,368.08 L462.93,360.75 L462.94,353.20 L462.94,345.49 L462.94,337.69 L462.94,329.89 L462.93,322.15 L462.93,314.54 L462.93,307.13 L462.92,300.00 L462.92,292.78 L462.91,285.14 L462.90,277.15 L462.89,268.91 L462.88,260.52 L462.87,252.06 L462.86,243.63 L462.85,235.31 L462.84,227.20 L462.83,219.40 L462.82,211.98 L462.81,205.05 L462.80,198.70 L462.79,193.01 L462.78,188.08 L462.77,184.00Z" fill="#a94534" stroke="#86352a" stroke-width="0.55" stroke-linejoin="round" />
<ellipse cx="446" cy="184.3" rx="2" ry="1" fill="#3a2420"/>
<ellipse cx="461.3" cy="184.3" rx="2" ry="1" fill="#3a2420"/>
<path d="M482.38,188.07 L482.47,189.92 L482.59,192.17 L482.73,194.78 L482.88,197.70 L483.04,200.89 L483.22,204.29 L483.41,207.87 L483.60,211.57 L483.80,215.36 L484.00,219.17 L484.19,222.97 L484.39,226.70 L484.58,230.33 L484.75,233.79 L484.92,237.06 L485.08,240.07 L485.22,242.91 L485.35,245.68 L485.48,248.38 L485.60,251.03 L485.72,253.62 L485.84,256.16 L485.95,258.66 L486.06,261.13 L486.17,263.56 L486.29,265.96 L486.41,268.34 L486.53,270.71 L486.65,273.06 L486.79,275.40 L486.93,277.75 L487.08,280.09 L487.24,282.46 L487.41,284.85 L487.58,287.26 L487.76,289.68 L487.95,292.09 L488.14,294.49 L488.33,296.86 L488.53,299.19 L488.72,301.47 L488.92,303.69 L489.11,305.84 L489.31,307.91 L489.50,309.89 L489.68,311.77 L489.86,313.53 L490.03,315.16 L490.20,316.66 L490.35,318.03 L490.50,319.28 L490.64,320.42 L490.78,321.48 L490.92,322.45 L491.06,323.35 L491.19,324.20 L491.33,325.00 L491.48,325.77 L491.63,326.52 L491.79,327.26 L491.95,328.00 L492.13,328.76 L492.32,329.54 L492.52,330.36 L492.73,331.21 L492.96,332.06 L493.19,332.90 L493.43,333.74 L493.68,334.56 L493.94,335.37 L494.20,336.17 L494.47,336.95 L494.75,337.72 L495.03,338.48 L495.32,339.21 L495.61,339.93 L495.90,340.62 L496.20,341.29 L496.50,341.94 L496.80,342.57 L497.11,343.17 L497.43,343.76 L497.76,344.32 L498.09,344.86 L498.43,345.38 L498.77,345.88 L499.11,346.36 L499.46,346.82 L499.81,347.25 L500.16,347.67 L500.51,348.07 L500.87,348.45 L501.22,348.81 L501.57,349.15 L501.91,349.47 L502.26,349.78 L502.61,350.07 L502.97,350.35 L503.33,350.60 L503.69,350.82 L504.05,351.03 L504.41,351.22 L504.77,351.39 L505.13,351.53 L505.49,351.66 L505.85,351.78 L506.20,351.87 L506.55,351.95 L506.90,352.01 L507.25,352.06 L507.60,352.10 L507.94,352.12 L508.29,352.13 L508.63,352.12 L508.96,352.09 L509.29,352.04 L509.61,351.97 L509.93,351.89 L510.25,351.79 L510.56,351.68 L510.88,351.56 L511.19,351.43 L511.51,351.30 L511.84,351.15 L512.17,351.00 L512.52,350.85 L512.87,350.69 L513.25,350.52 L513.65,350.33 L514.07,350.12 L514.50,349.88 L514.93,349.63 L515.38,349.37 L515.83,349.10 L516.29,348.82 L516.75,348.54 L517.21,348.27 L517.67,348.00 L518.12,347.75 L518.57,347.51 L519.02,347.29 L519.45,347.09 L519.87,346.92 L520.28,346.78 L520.69,346.66 L521.13,346.55 L521.59,346.46 L522.07,346.39 L522.56,346.32 L523.05,346.27 L523.54,346.22 L524.03,346.19 L524.50,346.16 L524.96,346.13 L525.40,346.11 L525.81,346.10 L526.19,346.08 L526.54,346.06 L526.86,346.04 L527.12,346.02 L526.88,343.98 L526.65,344.02 L526.38,344.05 L526.05,344.08 L525.67,344.12 L525.26,344.16 L524.81,344.21 L524.34,344.26 L523.85,344.31 L523.34,344.38 L522.82,344.46 L522.29,344.54 L521.76,344.65 L521.23,344.76 L520.72,344.90 L520.21,345.05 L519.72,345.22 L519.24,345.43 L518.77,345.66 L518.30,345.91 L517.83,346.19 L517.37,346.48 L516.91,346.78 L516.45,347.08 L516.00,347.39 L515.56,347.70 L515.13,348.01 L514.70,348.30 L514.28,348.58 L513.88,348.84 L513.49,349.08 L513.12,349.30 L512.75,349.48 L512.39,349.65 L512.04,349.82 L511.70,349.98 L511.38,350.14 L511.07,350.28 L510.77,350.41 L510.47,350.53 L510.19,350.63 L509.91,350.72 L509.64,350.80 L509.38,350.85 L509.11,350.89 L508.85,350.92 L508.59,350.92 L508.33,350.91 L508.06,350.88 L507.78,350.83 L507.50,350.76 L507.22,350.67 L506.95,350.57 L506.67,350.46 L506.40,350.33 L506.13,350.19 L505.87,350.03 L505.60,349.86 L505.34,349.67 L505.07,349.46 L504.81,349.25 L504.54,349.01 L504.28,348.77 L504.01,348.50 L503.74,348.22 L503.46,347.92 L503.17,347.60 L502.88,347.27 L502.59,346.92 L502.30,346.56 L502.00,346.18 L501.71,345.78 L501.42,345.37 L501.12,344.94 L500.84,344.50 L500.55,344.03 L500.27,343.55 L499.99,343.05 L499.72,342.53 L499.46,341.99 L499.20,341.43 L498.94,340.84 L498.69,340.23 L498.43,339.58 L498.18,338.92 L497.94,338.23 L497.69,337.52 L497.45,336.79 L497.21,336.05 L496.98,335.28 L496.75,334.51 L496.53,333.72 L496.31,332.92 L496.09,332.11 L495.88,331.29 L495.68,330.47 L495.48,329.64 L495.29,328.83 L495.11,328.06 L494.94,327.32 L494.78,326.60 L494.62,325.89 L494.47,325.18 L494.32,324.44 L494.18,323.68 L494.04,322.87 L493.90,322.00 L493.75,321.05 L493.61,320.03 L493.45,318.91 L493.30,317.68 L493.14,316.32 L492.97,314.84 L492.79,313.22 L492.60,311.47 L492.41,309.60 L492.22,307.63 L492.02,305.57 L491.82,303.43 L491.61,301.21 L491.41,298.94 L491.21,296.61 L491.01,294.25 L490.81,291.86 L490.62,289.46 L490.44,287.05 L490.26,284.65 L490.08,282.26 L489.92,279.91 L489.77,277.57 L489.63,275.24 L489.50,272.90 L489.37,270.56 L489.25,268.20 L489.14,265.83 L489.02,263.43 L488.91,261.00 L488.80,258.54 L488.69,256.03 L488.58,253.49 L488.46,250.90 L488.34,248.25 L488.21,245.54 L488.07,242.77 L487.92,239.93 L487.76,236.91 L487.58,233.64 L487.39,230.17 L487.19,226.55 L486.99,222.82 L486.77,219.02 L486.56,215.21 L486.35,211.43 L486.14,207.72 L485.94,204.15 L485.75,200.74 L485.57,197.55 L485.40,194.63 L485.25,192.02 L485.13,189.77 L485.02,187.93Z" fill="#a94534" stroke="#86352a" stroke-width="0.55" stroke-linejoin="round" />
<path d="M532.54,346.92 L533.06,347.17 L533.69,347.50 L534.44,347.90 L535.28,348.36 L536.20,348.87 L537.19,349.41 L538.24,349.97 L539.32,350.54 L540.43,351.10 L541.55,351.65 L542.67,352.16 L543.78,352.63 L544.87,353.05 L545.92,353.39 L546.94,353.65 L547.90,353.82 L548.82,353.88 L549.73,353.87 L550.64,353.78 L551.52,353.62 L552.39,353.42 L553.25,353.17 L554.08,352.88 L554.89,352.57 L555.68,352.24 L556.44,351.91 L557.18,351.57 L557.88,351.24 L558.55,350.92 L559.19,350.64 L559.78,350.38 L560.34,350.16 L560.90,349.94 L561.42,349.71 L561.91,349.48 L562.36,349.24 L562.78,349.01 L563.17,348.78 L563.53,348.55 L563.87,348.34 L564.18,348.14 L564.49,347.95 L564.78,347.78 L565.06,347.63 L565.34,347.49 L565.62,347.38 L565.91,347.28 L566.21,347.20 L566.55,347.13 L566.89,347.08 L567.23,347.05 L567.58,347.02 L567.93,347.01 L568.29,347.02 L568.65,347.03 L569.00,347.05 L569.36,347.09 L569.72,347.13 L570.07,347.18 L570.43,347.24 L570.78,347.30 L571.12,347.36 L571.46,347.43 L571.80,347.51 L572.15,347.58 L572.48,347.65 L572.81,347.72 L573.13,347.79 L573.44,347.86 L573.73,347.94 L574.02,348.02 L574.29,348.11 L574.56,348.21 L574.81,348.32 L575.06,348.44 L575.30,348.58 L575.53,348.73 L575.76,348.90 L575.99,349.09 L576.21,349.30 L576.42,349.54 L576.63,349.81 L576.84,350.12 L577.05,350.47 L577.26,350.84 L577.47,351.24 L577.68,351.67 L577.89,352.11 L578.11,352.57 L578.33,353.04 L578.56,353.53 L578.80,354.01 L579.06,354.50 L579.32,354.99 L579.60,355.47 L579.90,355.94 L580.19,356.37 L580.48,356.80 L580.77,357.23 L581.06,357.65 L581.37,358.08 L581.67,358.51 L581.98,358.93 L582.30,359.36 L582.63,359.79 L582.97,360.22 L583.31,360.66 L583.67,361.10 L584.04,361.54 L584.41,361.98 L584.81,362.43 L585.21,362.88 L585.62,363.33 L586.05,363.80 L586.50,364.29 L586.96,364.78 L587.43,365.29 L587.92,365.79 L588.41,366.30 L588.91,366.81 L589.42,367.31 L589.93,367.80 L590.45,368.28 L590.97,368.75 L591.48,369.20 L592.00,369.62 L592.52,370.03 L593.03,370.40 L593.53,370.75 L594.03,371.07 L594.53,371.37 L595.03,371.65 L595.53,371.91 L596.03,372.16 L596.52,372.39 L597.02,372.60 L597.51,372.80 L598.00,372.99 L598.49,373.17 L598.98,373.35 L599.47,373.51 L599.96,373.67 L600.44,373.83 L600.94,373.98 L601.46,374.13 L602.00,374.28 L602.57,374.41 L603.14,374.53 L603.72,374.64 L604.30,374.74 L604.88,374.84 L605.45,374.93 L606.00,375.01 L606.52,375.08 L607.02,375.15 L607.49,375.21 L607.91,375.27 L608.29,375.32 L608.61,375.37 L608.88,375.41 L609.12,374.19 L608.84,374.13 L608.50,374.06 L608.12,373.99 L607.69,373.91 L607.23,373.83 L606.74,373.74 L606.23,373.64 L605.69,373.54 L605.14,373.42 L604.59,373.30 L604.03,373.18 L603.48,373.04 L602.94,372.90 L602.42,372.75 L601.93,372.59 L601.46,372.42 L601.00,372.24 L600.54,372.06 L600.08,371.87 L599.63,371.68 L599.18,371.48 L598.73,371.27 L598.29,371.06 L597.84,370.84 L597.41,370.60 L596.97,370.36 L596.54,370.10 L596.10,369.83 L595.67,369.55 L595.24,369.25 L594.81,368.93 L594.37,368.60 L593.94,368.24 L593.49,367.86 L593.04,367.44 L592.58,367.00 L592.11,366.54 L591.64,366.07 L591.17,365.58 L590.70,365.08 L590.23,364.57 L589.77,364.06 L589.32,363.55 L588.87,363.05 L588.43,362.55 L588.00,362.06 L587.59,361.58 L587.19,361.12 L586.81,360.68 L586.45,360.25 L586.10,359.82 L585.75,359.40 L585.42,358.98 L585.09,358.56 L584.77,358.15 L584.46,357.74 L584.15,357.33 L583.85,356.92 L583.55,356.51 L583.26,356.10 L582.97,355.69 L582.68,355.28 L582.39,354.87 L582.10,354.46 L581.83,354.07 L581.58,353.66 L581.32,353.24 L581.07,352.80 L580.83,352.36 L580.58,351.90 L580.33,351.45 L580.08,350.99 L579.83,350.53 L579.57,350.09 L579.31,349.65 L579.04,349.22 L578.75,348.81 L578.45,348.41 L578.13,348.04 L577.79,347.70 L577.44,347.39 L577.09,347.13 L576.74,346.89 L576.39,346.68 L576.03,346.50 L575.67,346.34 L575.31,346.20 L574.96,346.08 L574.60,345.98 L574.25,345.89 L573.90,345.81 L573.56,345.74 L573.22,345.67 L572.88,345.61 L572.54,345.55 L572.20,345.49 L571.84,345.43 L571.47,345.37 L571.10,345.31 L570.72,345.26 L570.32,345.21 L569.93,345.18 L569.53,345.14 L569.12,345.12 L568.71,345.11 L568.30,345.11 L567.88,345.12 L567.46,345.14 L567.05,345.18 L566.63,345.24 L566.21,345.31 L565.79,345.40 L565.37,345.52 L564.96,345.66 L564.58,345.81 L564.22,345.99 L563.88,346.17 L563.54,346.37 L563.21,346.57 L562.88,346.77 L562.55,346.98 L562.21,347.19 L561.85,347.40 L561.48,347.61 L561.08,347.82 L560.65,348.03 L560.18,348.23 L559.66,348.44 L559.06,348.68 L558.43,348.97 L557.77,349.28 L557.10,349.62 L556.41,349.96 L555.70,350.31 L554.97,350.65 L554.23,350.98 L553.48,351.28 L552.72,351.56 L551.95,351.80 L551.18,352.00 L550.41,352.14 L549.63,352.22 L548.87,352.24 L548.10,352.18 L547.30,352.03 L546.41,351.79 L545.45,351.45 L544.44,351.05 L543.39,350.57 L542.32,350.05 L541.25,349.50 L540.18,348.92 L539.14,348.33 L538.12,347.75 L537.16,347.19 L536.25,346.66 L535.42,346.16 L534.66,345.73 L534.00,345.36 L533.46,345.08Z" fill="#a94534" stroke="#86352a" stroke-width="0.55" stroke-linejoin="round" />
<path d="M443.75,407 Q453,404.5 462.9,407 L491.2,424.3 Q453.6,428.5 416.2,424.3 Z" fill="#2f2f2f"/>
<path d="M527.3,185 C528,230 528.5,260 528,280 C527.5,295 526.5,310 527,318 C528,328 531,335 532,343" fill="none" stroke="#262626" stroke-width="1.3"/>
<ellipse cx="527.25" cy="184" rx="8.2" ry="1.9" fill="#333333"/><rect x="526.2" y="184" width="2.2" height="3.4" rx="0.8" fill="#2c2c2c"/>
<rect x="521" y="343.3" width="12" height="3.3" rx="1" fill="#262626"/>
<rect x="567.2" y="345.2" width="9.3" height="2.6" rx="1" fill="#2a2a2a"/>
<defs><linearGradient id="m10" x1="0" y1="0" x2="0" y2="1"><stop offset="0" stop-color="#2a2a2a"/><stop offset="0.45" stop-color="#2c2c2c"/><stop offset="0.55" stop-color="#3a3a3a"/><stop offset="0.68" stop-color="#2c2c2c"/><stop offset="1" stop-color="#262626"/></linearGradient></defs>
<path d="M612.2,369.2 L622.3,367.2 Q626.2,368.5 626.2,375.8 Q626.2,383.2 622.3,384.6 L612.2,383.8 Q609.2,382.5 609.2,376.5 Q609.2,370.5 612.2,369.2Z" fill="url(#m10)"/>
<path d="M610.08,373.50 L610.09,377.83 L610.10,382.85 L610.11,388.53 L610.13,394.82 L610.15,401.66 L610.17,409.02 L610.19,416.84 L610.21,425.07 L610.23,433.66 L610.26,442.58 L610.28,451.76 L610.30,461.16 L610.32,470.73 L610.34,480.43 L610.36,490.20 L610.38,500.00 L610.39,510.37 L610.41,521.76 L610.42,533.99 L610.44,546.88 L610.45,560.25 L610.47,573.91 L610.48,587.69 L610.49,601.41 L610.51,614.88 L610.52,627.91 L610.53,640.34 L610.54,651.98 L610.55,662.65 L610.56,672.16 L610.57,680.34 L610.58,687.00 L614.02,687.00 L614.02,680.34 L614.01,672.16 L614.00,662.65 L613.99,651.98 L613.98,640.34 L613.97,627.91 L613.96,614.87 L613.94,601.40 L613.93,587.69 L613.92,573.91 L613.90,560.25 L613.89,546.88 L613.87,533.99 L613.86,521.76 L613.84,510.37 L613.82,500.00 L613.81,490.20 L613.79,480.42 L613.77,470.73 L613.75,461.15 L613.73,451.75 L613.71,442.57 L613.68,433.65 L613.66,425.06 L613.64,416.83 L613.62,409.01 L613.60,401.65 L613.58,394.81 L613.56,388.52 L613.55,382.84 L613.54,377.82 L613.52,373.50Z" fill="#9c4233" stroke="#86352a" stroke-width="0.55" stroke-linejoin="round" />
<line x1="609" y1="476.6" x2="623.8" y2="476.6" stroke="#262626" stroke-width="1.4"/>
<path d="M610.00,691.74 L609.95,692.03 L609.89,692.40 L609.82,692.81 L609.75,693.26 L609.68,693.75 L609.60,694.27 L609.52,694.82 L609.43,695.38 L609.33,695.95 L609.23,696.52 L609.13,697.09 L609.02,697.64 L608.90,698.17 L608.79,698.67 L608.67,699.13 L608.55,699.54 L608.42,699.94 L608.28,700.33 L608.14,700.71 L608.00,701.09 L607.85,701.45 L607.69,701.81 L607.53,702.17 L607.37,702.51 L607.20,702.86 L607.02,703.20 L606.84,703.53 L606.65,703.87 L606.45,704.20 L606.25,704.53 L606.04,704.86 L605.83,705.19 L605.62,705.50 L605.39,705.81 L605.14,706.12 L604.87,706.43 L604.60,706.75 L604.31,707.07 L604.01,707.39 L603.71,707.70 L603.41,708.02 L603.11,708.33 L602.81,708.64 L602.52,708.95 L602.24,709.26 L601.97,709.56 L601.71,709.87 L601.48,710.16 L601.27,710.43 L601.08,710.68 L600.88,710.94 L600.68,711.19 L600.49,711.45 L600.31,711.70 L600.13,711.94 L599.96,712.19 L599.81,712.44 L599.66,712.68 L599.52,712.93 L599.40,713.18 L599.30,713.45 L599.22,713.74 L599.17,714.07 L599.18,714.44 L599.29,714.82 L599.46,715.14 L599.68,715.40 L599.91,715.60 L600.16,715.77 L600.41,715.90 L600.67,716.00 L600.95,716.08 L601.22,716.14 L601.51,716.18 L601.81,716.20 L602.10,716.20 L602.41,716.18 L602.72,716.13 L603.03,716.06 L603.34,715.97 L603.67,715.83 L604.00,715.66 L604.33,715.46 L604.67,715.25 L605.01,715.01 L605.35,714.77 L605.70,714.51 L606.04,714.25 L606.38,713.99 L606.70,713.74 L607.01,713.49 L607.29,713.26 L607.55,713.06 L607.77,712.88 L607.96,712.73 L608.11,712.62 L606.89,710.98 L606.72,711.10 L606.51,711.27 L606.27,711.46 L606.01,711.67 L605.73,711.90 L605.43,712.14 L605.12,712.39 L604.80,712.64 L604.47,712.88 L604.15,713.12 L603.84,713.35 L603.54,713.55 L603.26,713.73 L603.02,713.87 L602.81,713.97 L602.66,714.03 L602.52,714.07 L602.37,714.10 L602.22,714.12 L602.06,714.12 L601.91,714.11 L601.77,714.09 L601.64,714.07 L601.52,714.03 L601.42,713.99 L601.34,713.95 L601.29,713.92 L601.27,713.90 L601.28,713.90 L601.32,713.94 L601.37,714.03 L601.42,714.16 L601.43,714.27 L601.43,714.31 L601.46,714.29 L601.50,714.22 L601.57,714.11 L601.67,713.98 L601.79,713.82 L601.94,713.65 L602.10,713.46 L602.27,713.26 L602.46,713.04 L602.66,712.82 L602.87,712.58 L603.09,712.34 L603.31,712.09 L603.52,711.84 L603.73,711.61 L603.96,711.36 L604.21,711.11 L604.48,710.83 L604.76,710.55 L605.06,710.25 L605.37,709.95 L605.69,709.63 L606.01,709.31 L606.34,708.98 L606.66,708.64 L606.98,708.29 L607.29,707.93 L607.60,707.56 L607.90,707.19 L608.17,706.81 L608.42,706.45 L608.67,706.09 L608.90,705.73 L609.13,705.37 L609.36,705.00 L609.58,704.63 L609.80,704.25 L610.01,703.86 L610.21,703.47 L610.41,703.07 L610.60,702.66 L610.78,702.24 L610.96,701.81 L611.13,701.37 L611.30,700.93 L611.45,700.46 L611.61,699.95 L611.75,699.41 L611.89,698.85 L612.02,698.26 L612.13,697.67 L612.25,697.07 L612.35,696.46 L612.45,695.87 L612.54,695.29 L612.63,694.73 L612.70,694.20 L612.78,693.71 L612.84,693.26 L612.90,692.87 L612.95,692.54 L613.00,692.26Z" fill="#9c4233" stroke="#86352a" stroke-width="0.55" stroke-linejoin="round" />
<path d="M610.88,692.00 L610.88,692.70 L610.88,693.60 L610.88,694.66 L610.88,695.86 L610.88,697.17 L610.88,698.57 L610.88,700.02 L610.88,701.50 L610.88,702.98 L610.88,704.43 L610.88,705.83 L610.87,707.14 L610.87,708.34 L610.87,709.40 L610.87,710.30 L610.88,711.00 L613.72,711.00 L613.72,710.30 L613.72,709.40 L613.72,708.34 L613.72,707.14 L613.72,705.83 L613.72,704.43 L613.72,702.98 L613.72,701.50 L613.72,700.02 L613.72,698.57 L613.72,697.17 L613.72,695.86 L613.72,694.66 L613.72,693.60 L613.72,692.70 L613.72,692.00Z" fill="#9c4233" stroke="#86352a" stroke-width="0.55" stroke-linejoin="round" />
<rect x="607.9" y="686.6" width="7" height="6.2" rx="1" fill="#282828"/>
<path d="M604.4,712 Q611.7,709.6 619,712 L619,741.5 Q611.7,743.6 604.4,741.5 Z" fill="#2f2f2f"/>
<path d="M663.42,169.00 L663.42,173.68 L663.42,179.45 L663.42,186.17 L663.42,193.71 L663.42,201.94 L663.42,210.73 L663.42,219.94 L663.42,229.44 L663.42,239.10 L663.42,248.78 L663.42,258.36 L663.42,267.70 L663.42,276.66 L663.42,285.12 L663.42,292.95 L663.42,300.00 L663.42,306.58 L663.42,313.07 L663.42,319.44 L663.42,325.66 L663.42,331.72 L663.42,337.60 L663.42,343.26 L663.42,348.69 L663.42,353.86 L663.42,358.75 L663.42,363.35 L663.42,367.62 L663.42,371.54 L663.42,375.09 L663.42,378.25 L663.42,381.00 L667.08,381.00 L667.08,378.25 L667.08,375.09 L667.08,371.54 L667.08,367.62 L667.08,363.35 L667.08,358.75 L667.08,353.86 L667.08,348.69 L667.08,343.26 L667.08,337.60 L667.08,331.72 L667.08,325.66 L667.08,319.44 L667.08,313.07 L667.08,306.58 L667.08,300.00 L667.08,292.95 L667.08,285.12 L667.08,276.66 L667.08,267.70 L667.08,258.36 L667.08,248.78 L667.08,239.10 L667.08,229.44 L667.08,219.94 L667.08,210.73 L667.08,201.94 L667.08,193.71 L667.08,186.17 L667.08,179.45 L667.08,173.68 L667.08,169.00Z" fill="#9c4233" stroke="#86352a" stroke-width="0.55" stroke-linejoin="round" />
<path d="M655.3,157.6 Q655.4,155.9 658,155.7 Q665.5,154.9 673,155.7 Q675.7,155.9 675.8,157.6 L675.1,167.9 Q674.9,169.8 672.2,169.9 Q665.5,170.4 659,169.9 Q656.3,169.8 656.1,167.9 Z" fill="#2d2d2d"/>
<path d="M661.31,386.18 L661.18,386.83 L661.01,387.65 L660.82,388.63 L660.60,389.74 L660.35,390.95 L660.10,392.23 L659.83,393.57 L659.56,394.93 L659.28,396.29 L659.02,397.63 L658.76,398.92 L658.52,400.13 L658.30,401.23 L658.10,402.21 L657.94,403.04 L657.81,403.68 L660.99,404.32 L661.12,403.67 L661.29,402.85 L661.48,401.87 L661.70,400.76 L661.95,399.55 L662.20,398.27 L662.47,396.93 L662.74,395.57 L663.02,394.21 L663.28,392.87 L663.54,391.58 L663.78,390.37 L664.00,389.27 L664.20,388.29 L664.36,387.46 L664.49,386.82Z" fill="#9c4233" stroke="#86352a" stroke-width="0.55" stroke-linejoin="round" />
<path d="M665.13,386.92 L665.30,387.57 L665.53,388.39 L665.79,389.37 L666.09,390.48 L666.41,391.69 L666.76,392.97 L667.11,394.31 L667.48,395.67 L667.85,397.03 L668.21,398.37 L668.55,399.66 L668.88,400.87 L669.17,401.97 L669.44,402.95 L669.66,403.78 L669.83,404.42 L672.97,403.58 L672.80,402.93 L672.57,402.11 L672.31,401.13 L672.01,400.02 L671.69,398.81 L671.34,397.53 L670.99,396.19 L670.62,394.83 L670.25,393.47 L669.89,392.13 L669.55,390.84 L669.22,389.63 L668.93,388.53 L668.66,387.55 L668.44,386.72 L668.27,386.08Z" fill="#9c4233" stroke="#86352a" stroke-width="0.55" stroke-linejoin="round" />
<rect x="661" y="380.5" width="7.8" height="6" rx="0.8" fill="#262626"/>
<defs><radialGradient id="gl" cx="0.55" cy="0.45" r="0.6"><stop offset="0" stop-color="#fffff5"/><stop offset="0.8" stop-color="#fffcee"/><stop offset="1" stop-color="#fbf8e6"/></radialGradient><filter id="bl" x="-10%" y="-10%" width="120%" height="120%"><feGaussianBlur stdDeviation="0.9"/></filter></defs>
<circle cx="664.3" cy="428.6" r="23.6" fill="url(#gl)" filter="url(#bl)"/>
<path d="M652,407.8 Q654,404.3 665.5,404 Q677,404.3 679,407.8 Z" fill="#38362f"/><rect x="658" y="402.6" width="15" height="2.2" fill="#4a2e26"/>
<text x="118" y="193.75" text-anchor="middle" class="lb">1</text>
<text x="166.25" y="143" text-anchor="middle" class="lb">2</text>
<text x="250" y="147" text-anchor="middle" class="lb">3</text>
<text x="222" y="218.75" text-anchor="middle" class="lb">4</text>
<text x="350" y="155" text-anchor="middle" class="lb">5</text>
<text x="450" y="162.4" text-anchor="middle" class="lb">6</text>
<text x="408.8" y="222" text-anchor="middle" class="lb">1</text>
<text x="516" y="252.75" text-anchor="middle" class="lb">8</text>
<text x="578" y="260" text-anchor="middle" class="lb">9</text>
<text x="270.8" y="307.7" text-anchor="middle" class="lb">7</text>
<text x="406" y="307.5" text-anchor="middle" class="lb">14</text>
<text x="412" y="365.2" text-anchor="middle" class="lb">4</text>
<text x="616" y="352.75" text-anchor="middle" class="lb">10</text>
<text x="664" y="150.4" text-anchor="middle" class="lb">3</text>
<text x="682" y="386.5" text-anchor="middle" class="lb">12</text>
<text x="635.25" y="479" text-anchor="middle" class="lb">11</text>
<text x="629" y="693.75" text-anchor="middle" class="lb">13</text>
<text x="122.5" y="67.5" class="title">Схема сборки ременной трековой системы Belty</text>
<rect x="50" y="484.8" width="480" height="1.2" fill="#8a8a8a"/>
<text x="65.5" y="521.25" text-anchor="end" class="num">1.</text>
<text x="70.5" y="521.25" class="desc">Подвес для штанги</text>
<text x="71.0" y="540.25" class="code">TR5537-BK</text>
<text x="65.5" y="561.75" text-anchor="end" class="num">2.</text>
<text x="70.5" y="561.75" class="desc">Встраиваемое основание</text>
<text x="71.0" y="580.75" class="code">TR5513-BK</text>
<text x="65.5" y="602.25" text-anchor="end" class="num">3.</text>
<text x="70.5" y="602.25" class="desc">Накладное основание</text>
<text x="71.0" y="621.25" class="code">TR5512-BK</text>
<text x="65.5" y="642.75" text-anchor="end" class="num">4.</text>
<text x="70.5" y="642.75" class="desc">Наконечник</text>
<text x="71.0" y="661.75" class="code">TR5520-BK</text>
<text x="65.5" y="683.25" text-anchor="end" class="num">5.</text>
<text x="70.5" y="683.25" class="desc">Накладное основание</text>
<text x="71.0" y="702.25" class="code">TR5510-BK</text>
<text x="65.5" y="723.75" text-anchor="end" class="num">6.</text>
<text x="70.5" y="723.75" class="desc">Накладное основание</text>
<text x="71.0" y="742.75" class="code">TR5511-BK</text>
<text x="244" y="521.25" text-anchor="end" class="num">7.</text>
<text x="250" y="521.25" class="desc">Штанга</text>
<text x="250.5" y="540.25" class="code">TR5532-BK<tspan x="318.4">1,5 м</tspan><tspan x="358.4">TR5534-BK</tspan><tspan x="428.75">2,5 м</tspan></text>
<text x="244" y="561.75" text-anchor="end" class="num">8.</text>
<text x="250" y="561.75" class="desc">Встраиваемое основание</text>
<text x="250.5" y="580.75" class="code">TR5514-BK</text>
<text x="244" y="602.25" text-anchor="end" class="num">9.</text>
<text x="250" y="602.25" class="desc">Подвесное крепление</text>
<text x="250.5" y="621.25" class="code">TR5517-BK</text>
<text x="244" y="642.75" text-anchor="end" class="num">10.</text>
<text x="250" y="642.75" class="desc">Накладное основание</text>
<text x="250.5" y="661.75" class="code">TR5515-BK</text>
<text x="244" y="683.25" text-anchor="end" class="num">11.</text>
<text x="250" y="683.25" class="desc">Накладное крепление</text>
<text x="250.5" y="702.25" class="code">TR5518-BK</text>
<text x="244" y="723.75" text-anchor="end" class="num">12.</text>
<text x="250" y="723.75" class="desc">Наконечник</text>
<text x="250.5" y="742.75" class="code">TR5519-BK</text>
<text x="424.5" y="683.25" text-anchor="end" class="num">13.</text>
<text x="430" y="683.25" class="desc">Утяжелитель</text>
<text x="430.5" y="702.25" class="code">TR5516-BK</text>
<text x="424.5" y="723.75" text-anchor="end" class="num">14.</text>
<text x="430" y="723.75" class="desc">Крепление-зажим</text>
<text x="430.5" y="742.75" class="code">TR5536-BK</text>
</svg>
</body></html>
